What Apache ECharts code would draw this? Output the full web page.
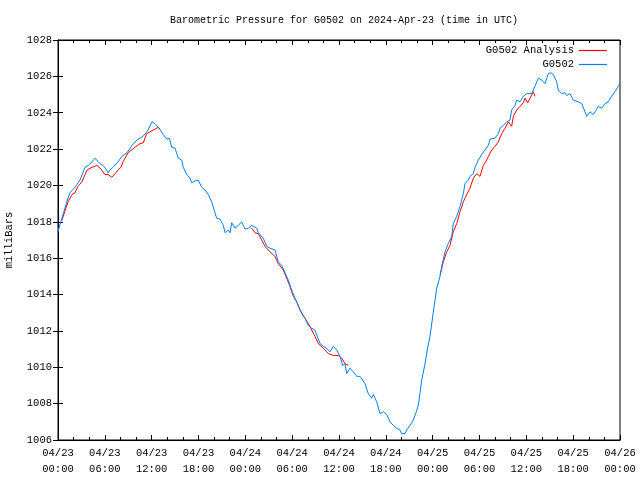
<!DOCTYPE html>
<html>
<head>
<meta charset="utf-8">
<script src="https://cdn.jsdelivr.net/npm/echarts@6/dist/echarts.min.js"></script>
<style>
html,body{margin:0;padding:0;background:#fff;}
#chart{width:640px;height:480px;}
</style>
</head>
<body>
<div id="chart"></div>
<script>
// Time axis: hours since 2024-04-23 00:00 UTC
const xTickLabels = ['04/23\n00:00','04/23\n06:00','04/23\n12:00','04/23\n18:00','04/24\n00:00','04/24\n06:00','04/24\n12:00','04/24\n18:00','04/25\n00:00','04/25\n06:00','04/25\n12:00','04/25\n18:00','04/26\n00:00'];

const g0502Hours = [0,0.13,0.51,0.90,1.28,1.54,2.18,2.82,3.46,3.88,4.36,4.74,5.38,5.77,6.15,6.41,6.66,7.05,7.69,8.20,8.84,9.48,10.12,10.89,11.53,12.04,12.42,12.85,13.07,13.49,13.93,14.26,14.57,14.99,15.41,15.85,16.05,16.49,16.91,17.13,17.55,17.97,18.41,18.83,19.26,19.69,20.11,20.33,20.75,21.18,21.40,21.82,22.04,22.25,22.68,23.10,23.53,23.96,24.38,24.82,25.02,25.46,25.66,26.30,26.74,27.16,27.80,28.22,28.66,29.08,29.50,29.94,30.36,30.79,31.22,31.64,32.07,32.50,32.92,33.14,33.57,33.99,34.42,34.85,35.27,35.71,36.13,36.47,36.77,36.99,37.41,37.83,38.27,38.69,38.91,39.33,39.75,40.19,40.40,40.83,41.26,41.68,42.11,42.53,42.96,43.39,43.81,44.03,44.46,44.67,45.10,45.52,45.86,46.16,46.38,46.60,47.02,47.31,47.66,48.04,48.52,48.94,49.16,49.58,50.00,50.44,50.64,51.08,51.50,51.93,52.14,52.57,52.78,53.21,53.43,53.85,54.28,54.71,55.13,55.35,55.99,56.42,56.63,57.06,57.48,57.91,58.12,58.55,58.77,59.19,59.61,60.05,60.25,60.69,61.11,61.53,61.97,62.39,62.81,63.16,63.45,63.89,64.09,64.53,64.95,65.17,65.59,66.02,66.66,67.10,67.52,67.73,68.16,68.58,68.80,69.22,69.65,70.07,70.49,70.93,71.35,71.77,72.0];
const g0502Mb = [1017.45,1017.66,1018.2,1018.76,1019.3,1019.6,1019.9,1020.3,1021.0,1021.1,1021.3,1021.5,1021.2,1021.1,1020.9,1020.7,1020.85,1021.0,1021.3,1021.6,1021.8,1022.2,1022.5,1022.7,1023.05,1023.5,1023.4,1023.2,1023.1,1022.8,1022.55,1022.6,1022.1,1022.05,1021.5,1021.4,1021.0,1020.6,1020.4,1020.15,1020.25,1020.3,1019.9,1019.75,1019.5,1019.1,1018.5,1018.2,1018.15,1017.8,1017.4,1017.55,1017.4,1017.95,1017.65,1017.8,1018.0,1017.6,1017.65,1017.8,1017.85,1017.65,1017.4,1017.1,1016.65,1016.55,1016.45,1015.8,1015.6,1015.2,1014.8,1014.25,1013.8,1013.4,1012.95,1012.7,1012.3,1012.15,1012.05,1011.8,1011.3,1011.15,1011.05,1010.85,1011.15,1010.95,1010.6,1010.1,1010.2,1009.65,1009.95,1009.75,1009.5,1009.5,1009.6,1009.1,1008.55,1008.3,1008.5,1008.1,1007.45,1007.55,1007.4,1007.0,1006.8,1006.65,1006.55,1006.35,1006.35,1006.55,1006.8,1007.1,1007.5,1007.9,1008.6,1009.3,1010.2,1010.95,1011.7,1012.9,1014.35,1015.0,1015.55,1016.35,1016.8,1017.2,1017.9,1018.3,1018.85,1019.55,1020.1,1020.3,1020.5,1020.65,1021.0,1021.4,1021.7,1021.95,1022.2,1022.55,1022.6,1022.85,1023.15,1023.3,1023.5,1023.6,1024.15,1024.4,1024.7,1024.6,1024.9,1025.05,1025.15,1025.05,1025.45,1025.9,1025.8,1025.6,1026.15,1026.2,1026.1,1025.7,1025.25,1025.05,1025.1,1024.95,1025.05,1024.7,1024.6,1024.5,1024.05,1023.8,1024.05,1023.9,1024.05,1024.35,1024.25,1024.5,1024.6,1024.9,1025.15,1025.45,1025.6];

// Analysis: null marks the gaps between the three analysed stretches
const analysisHours = [0.51,0.90,1.28,1.79,2.18,2.56,3.07,3.72,4.36,5.00,5.51,6.02,6.41,6.88,7.05,7.43,7.69,8.07,8.33,8.97,9.86,10.51,10.93,11.36,11.79,12.43,12.85,13.07,
  18.0,
  24.82,25.02,25.24,25.66,26.10,26.52,27.16,27.80,28.22,28.86,29.30,29.72,30.15,30.58,31.00,31.64,32.28,32.92,33.35,33.99,34.63,35.27,35.91,36.35,36.77,37.19,
  43.0,
  48.94,49.36,49.80,50.22,50.64,51.08,51.50,51.93,52.36,52.78,53.21,53.64,54.06,54.49,54.92,55.13,55.57,55.99,56.42,56.84,57.27,57.70,58.12,58.33,58.77,59.19,59.61,59.83,60.18,60.48,60.90,61.11];
const analysisMb = [1018.1,1018.6,1019.1,1019.5,1019.6,1019.95,1020.2,1020.85,1021.0,1021.1,1020.9,1020.6,1020.6,1020.45,1020.5,1020.7,1020.85,1021.0,1021.3,1021.8,1022.1,1022.3,1022.35,1022.85,1022.95,1023.1,1023.2,1023.1,
  null,
  1017.65,1017.55,1017.4,1017.35,1017.0,1016.65,1016.35,1016.1,1015.7,1015.35,1014.9,1014.45,1013.9,1013.6,1013.15,1012.7,1012.25,1011.7,1011.3,1011.05,1010.75,1010.65,1010.65,1010.5,1010.2,1010.1,
  null,
  1015.05,1015.8,1016.35,1016.7,1017.45,1017.9,1018.55,1019.1,1019.5,1019.85,1020.4,1020.65,1020.5,1021.1,1021.4,1021.6,1021.95,1022.15,1022.4,1022.85,1023.15,1023.5,1023.25,1023.8,1024.15,1024.35,1024.55,1024.8,1024.55,1024.8,1025.15,1024.9];

const FONT = 'Liberation Mono';
const RED = '#ff0000';
const BLUE = '#0080ff';
const chart = echarts.init(document.getElementById('chart'), null, {renderer: 'canvas'});

const textStyle = {fontFamily: FONT, fontSize: 10.5, color: '#000'};
const baseX = {
  type: 'value', min: 0, max: 72, interval: 6,
  axisLine: {show: true, lineStyle: {color: '#000', width: 1}},
  axisTick: {show: true, inside: true, length: 5, lineStyle: {color: '#000'}},
  minorTick: {show: true, splitNumber: 3, length: 3, lineStyle: {color: '#000'}},
  splitLine: {show: false}
};
const baseY = {
  type: 'value', min: 1006, max: 1028, interval: 2,
  axisLine: {show: true, lineStyle: {color: '#000', width: 1}},
  axisTick: {show: true, inside: true, length: 5, lineStyle: {color: '#000'}},
  splitLine: {show: false}
};

chart.setOption({
  animation: false,
  backgroundColor: '#fff',
  title: {
    text: 'Barometric Pressure for G0502 on 2024-Apr-23 (time in UTC)',
    left: 165, top: 10,
    textStyle: {fontFamily: FONT, fontSize: 10, fontWeight: 'normal', color: '#000'}
  },
  legend: [
    {data: [{name: 'G0502 Analysis', itemStyle: {color: RED, borderWidth: 0}}],
     orient: 'vertical', align: 'right', right: 28, top: 40, icon: 'rect',
     itemWidth: 28, itemHeight: 1.2, textStyle: textStyle, selectedMode: false},
    {data: [{name: 'G0502', itemStyle: {color: BLUE, borderWidth: 0}}],
     orient: 'vertical', align: 'right', right: 28, top: 54, icon: 'rect',
     itemWidth: 28, itemHeight: 1.2, textStyle: textStyle, selectedMode: false}
  ],
  grid: {left: 58, right: 20, top: 40, bottom: 40, containLabel: false, outerBoundsMode: 'none',
         show: true, borderColor: '#000', borderWidth: 1, backgroundColor: 'transparent'},
  xAxis: [
    Object.assign({}, baseX, {
      position: 'bottom',
      axisLabel: {show: true, margin: 5, lineHeight: 16, fontFamily: FONT, fontSize: 10.5, color: '#000',
        formatter: function (v) { return xTickLabels[Math.round(v / 6)]; }}
    }),
    Object.assign({}, baseX, {position: 'top', axisLabel: {show: false}})
  ],
  yAxis: [
    Object.assign({}, baseY, {
      position: 'left',
      name: 'milliBars', nameLocation: 'middle', nameGap: 43, nameRotate: 90,
      nameTextStyle: {fontFamily: FONT, fontSize: 10.5, color: '#000'},
      axisLabel: {show: true, margin: 6, fontFamily: FONT, fontSize: 10.5, color: '#000',
        formatter: function (v) { return String(v); }}
    }),
    Object.assign({}, baseY, {position: 'right', axisLabel: {show: false}})
  ],
  series: [
    {
      name: 'G0502 Analysis', type: 'line', xAxisIndex: 0, yAxisIndex: 0,
      data: analysisHours.map((h, i) => [h, analysisMb[i]]),
      showSymbol: false, symbol: 'none', connectNulls: false,
      lineStyle: {color: RED, width: 1}, itemStyle: {color: RED},
      z: 2
    },
    {
      name: 'G0502', type: 'line', xAxisIndex: 0, yAxisIndex: 0,
      data: g0502Hours.map((h, i) => [h, g0502Mb[i]]),
      showSymbol: false, symbol: 'none',
      lineStyle: {color: BLUE, width: 1}, itemStyle: {color: BLUE},
      z: 3
    }
  ]
});
</script>
</body>
</html>
